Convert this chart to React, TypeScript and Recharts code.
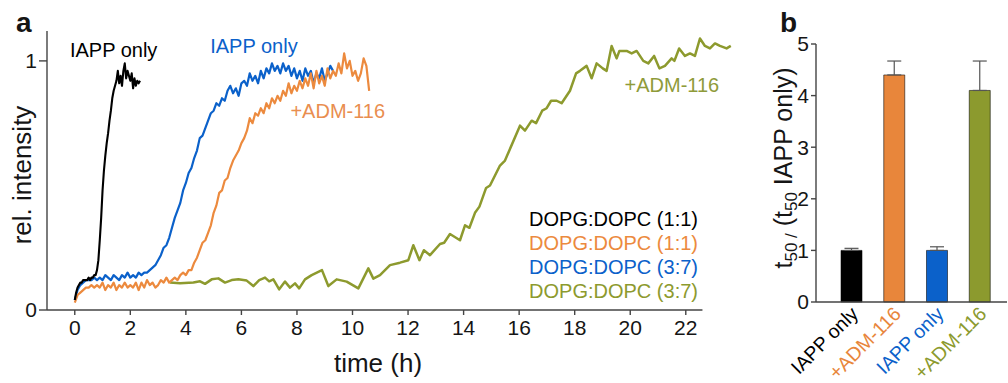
import React from 'react';
import {
  LineChart,
  Line,
  XAxis,
  YAxis,
  ReferenceLine,
  ReferenceDot,
  Legend,
  BarChart,
  Bar,
  Cell,
  ErrorBar,
} from 'recharts';

const FONT = '"Liberation Sans", Arial, Helvetica, sans-serif';
const INK = '#151515';
const AXIS = '#444444';

const BLACK = '#000000';
const ORANGE = '#EC8A3E';
const BLUE = '#0B61CA';
const OLIVE = '#8D9A2E';

// ---- panel a: ThT kinetics (relative intensity vs time in hours) ----
const timeTicks = [0, 2, 4, 6, 8, 10, 12, 14, 16, 18, 20, 22];
const intensityTicks = [0, 1];

// IAPP only, DOPG:DOPC (1:1): sampled every 0.05 h
const BLACK_DT = 0.05;
const blackValues = [
  0.04, 0.07, 0.09, 0.10, 0.11, 0.11, 0.12, 0.12, 0.12, 0.12,
  0.13, 0.12, 0.13, 0.13, 0.14, 0.14, 0.16, 0.20, 0.28, 0.37,
  0.48, 0.56, 0.62, 0.67, 0.71, 0.76, 0.80, 0.85, 0.88, 0.90,
  0.92, 0.96, 0.91, 0.94, 0.90, 0.96, 0.99, 0.93, 0.96, 0.94,
  0.92, 0.95, 0.89, 0.93, 0.90, 0.92, 0.91, 0.92,
];

// IAPP only, DOPG:DOPC (3:7): sampled every 0.1 h
const BLUE_DT = 0.1;
const blueValues = [
  0.04, 0.08, 0.10, 0.11, 0.12, 0.12, 0.12, 0.13, 0.12, 0.13,
  0.12, 0.14, 0.13, 0.12, 0.14, 0.13, 0.12, 0.14, 0.13, 0.15,
  0.13, 0.14, 0.13, 0.15, 0.14, 0.15, 0.15, 0.16, 0.17, 0.18,
  0.20, 0.22, 0.25, 0.26, 0.29, 0.33, 0.37, 0.40, 0.43, 0.48,
  0.51, 0.55, 0.57, 0.61, 0.64, 0.69, 0.70, 0.73, 0.76, 0.79,
  0.80, 0.83, 0.82, 0.85, 0.84, 0.88, 0.90, 0.87, 0.89, 0.86,
  0.91, 0.92, 0.90, 0.95, 0.92, 0.94, 0.91, 0.96, 0.93, 0.97,
  0.95, 0.99, 0.96, 0.98, 0.95, 0.99, 0.96, 0.98, 0.94, 0.97,
  0.93, 0.96, 0.92, 0.97, 0.94, 0.96, 0.91, 0.95, 0.93, 0.97,
  0.92, 0.95, 0.98, 0.96,
];

// +ADM-116, DOPG:DOPC (1:1): sampled every 0.1 h
const ORANGE_DT = 0.1;
const orangeValues = [
  0.03, 0.06, 0.07, 0.08, 0.09, 0.09, 0.10, 0.09, 0.10, 0.09,
  0.11, 0.08, 0.10, 0.09, 0.11, 0.08, 0.10, 0.09, 0.11, 0.09,
  0.10, 0.09, 0.11, 0.08, 0.11, 0.09, 0.12, 0.10, 0.11, 0.09,
  0.10, 0.12, 0.11, 0.13, 0.11, 0.12, 0.13, 0.12, 0.14, 0.15,
  0.14, 0.16, 0.16, 0.19, 0.21, 0.24, 0.27, 0.28, 0.31, 0.34,
  0.39, 0.42, 0.47, 0.48, 0.52, 0.53, 0.57, 0.60, 0.62, 0.64,
  0.67, 0.69, 0.72, 0.77, 0.75, 0.79, 0.78, 0.81, 0.79, 0.83,
  0.81, 0.85, 0.83, 0.86, 0.84, 0.88, 0.86, 0.91, 0.87, 0.90,
  0.88, 0.92, 0.89, 0.93, 0.90, 0.95, 0.89, 0.96, 0.91, 0.94,
  0.90, 0.97, 0.93, 0.96, 0.94, 0.99, 0.95, 1.03, 0.97, 1.00,
  0.94, 0.96, 0.92, 0.95, 1.01, 0.98, 0.88,
];

// +ADM-116, DOPG:DOPC (3:7): irregular sampling
const oliveTimes = [
  3.43, 3.79, 4.27, 4.51, 4.69, 4.93, 5.17, 5.41, 5.65, 5.89,
  6.19, 6.43, 6.64, 6.85, 7.0, 7.15, 7.36, 7.57, 7.75, 7.93,
  8.08, 8.29, 8.53, 8.9, 9.13, 9.43, 9.79, 10.21, 10.57, 10.75,
  10.99, 11.35, 11.71, 12.01, 12.19, 12.41, 12.57, 12.79, 13.15, 13.3,
  13.51, 13.87, 14.05, 14.21, 14.41, 14.57, 14.81, 14.95, 15.31, 15.49,
  16.03, 16.21, 16.45, 16.61, 16.83, 16.99, 17.15, 17.35, 17.53, 17.83,
  18.05, 18.19, 18.43, 18.61, 18.79, 19.01, 19.15, 19.33, 19.51, 19.61,
  19.87, 20.05, 20.23, 20.47, 20.65, 20.86, 21.05, 21.25, 21.49, 21.59,
  21.76, 21.97, 22.15, 22.33, 22.51, 22.69, 22.87, 23.05, 23.23, 23.47,
  23.62,
];
const oliveValues = [
  0.11, 0.107, 0.11, 0.115, 0.105, 0.123, 0.127, 0.11, 0.12, 0.123,
  0.118, 0.096, 0.12, 0.13, 0.115, 0.123, 0.083, 0.114, 0.09, 0.107,
  0.087, 0.123, 0.14, 0.16, 0.096, 0.123, 0.114, 0.087, 0.167, 0.126,
  0.14, 0.18, 0.19, 0.20, 0.26, 0.20, 0.24, 0.22, 0.265, 0.27,
  0.305, 0.28, 0.34, 0.33, 0.39, 0.415, 0.49, 0.50, 0.58, 0.60,
  0.74, 0.72, 0.76, 0.75, 0.80, 0.81, 0.84, 0.84, 0.83, 0.88,
  0.95, 0.96, 0.98, 0.93, 0.99, 0.97, 0.96, 1.06, 1.01, 1.04,
  1.04, 1.03, 1.04, 1.0, 0.99, 1.02, 0.97, 0.98, 1.01, 1.0,
  1.05, 1.02, 1.03, 1.02, 1.09, 1.06, 1.05, 1.07, 1.06, 1.05,
  1.06,
];

const legendLabels = ['DOPG:DOPC (1:1)', 'DOPG:DOPC (1:1)', 'DOPG:DOPC (3:7)', 'DOPG:DOPC (3:7)'];
const legendColors = [BLACK, ORANGE, BLUE, OLIVE];

// ---- panel b: t50 relative to IAPP alone ----
const barLabels = ['IAPP only', '+ADM-116', 'IAPP only', '+ADM-116'];
const barValues = [1.0, 4.4, 1.0, 4.1];
const barErrors = [0.04, 0.27, 0.07, 0.57];
const barColors = ['#000000', '#E8863B', '#0B61CA', '#8C9A2E'];
const ratioTicks = [0, 1, 2, 3, 4, 5];

const sampled = (values: number[], dt: number) =>
  values.map((v, i) => ({ t: Math.round(i * dt * 100) / 100, v }));

const blackData = sampled(blackValues, BLACK_DT);
const blueData = sampled(blueValues, BLUE_DT);
const orangeData = sampled(orangeValues, ORANGE_DT);
const oliveData = oliveTimes.map((t, i) => ({ t, v: oliveValues[i] }));

const barData = barLabels.map((label, i) => ({
  id: i,
  label,
  value: barValues[i],
  err: [0, barErrors[i]],
}));

const IntensityTitle = (props: any) => {
  const vb = props.viewBox || { x: 0, y: 31, width: 47, height: 279 };
  const x = vb.x + 31;
  const y = vb.y + 144;
  return (
    <g>
      <text x={16} y={32} fontSize={28} fontWeight="bold" fontFamily={FONT} fill={INK}>
        a
      </text>
      <text
        x={x}
        y={y}
        transform={`rotate(-90, ${x}, ${y})`}
        textAnchor="middle"
        fontSize={26}
        fontFamily={FONT}
        fill={INK}
      >
        rel. intensity
      </text>
    </g>
  );
};

const TimeTitle = (props: any) => {
  const vb = props.viewBox || { x: 47, y: 310, width: 686, height: 73 };
  return (
    <text x={vb.x + 331} y={vb.y + 62} textAnchor="middle" fontSize={26} fontFamily={FONT} fill={INK}>
      time (h)
    </text>
  );
};

const RatioTitle = (props: any) => {
  const vb = props.viewBox || { x: 0, y: 44, width: 56, height: 258 };
  const x = vb.x + 32;
  const y = vb.y + vb.height / 2 - 5;
  return (
    <g>
      <text x={20} y={32} fontSize={28} fontWeight="bold" fontFamily={FONT} fill={INK}>
        b
      </text>
      <text
        x={x}
        y={y}
        transform={`rotate(-90, ${x}, ${y})`}
        textAnchor="middle"
        fontSize={25}
        fontFamily={FONT}
        fill={INK}
      >
        t
        <tspan fontSize={17} dy={5}>
          50 /
        </tspan>
        <tspan dy={-5}> (t</tspan>
        <tspan fontSize={17} dy={5}>
          50
        </tspan>
        <tspan dy={-5}> IAPP only)</tspan>
      </text>
    </g>
  );
};

const ConditionTick = (props: any) => {
  const { x, y, payload } = props;
  const i = Number(payload.value);
  const ax = x + 8;
  const ay = y + 5;
  return (
    <text
      x={ax}
      y={ay}
      transform={`rotate(-45, ${ax}, ${ay})`}
      textAnchor="end"
      fontSize={19.5}
      fontFamily={FONT}
      fill={barColors[i]}
    >
      {barLabels[i]}
    </text>
  );
};

const ConditionLegend = () => (
  <div style={{ textAlign: 'right', fontFamily: FONT, fontSize: 20, lineHeight: '24px' }}>
    {legendLabels.map((label, i) => (
      <div key={i} style={{ color: legendColors[i], whiteSpace: 'nowrap' }}>
        {label}
      </div>
    ))}
  </div>
);

const noteStyle = (color: string) => ({
  position: 'center' as const,
  fill: color,
  fontSize: 20,
  fontFamily: FONT,
});

export default function App() {
  return (
    <div
      style={{
        position: 'absolute',
        left: 0,
        top: 0,
        width: 1008,
        height: 383,
        background: '#ffffff',
        fontFamily: FONT,
        overflow: 'hidden',
      }}
    >
      <div style={{ position: 'absolute', left: 0, top: 0 }}>
        <LineChart width={750} height={383} margin={{ top: 31, right: 17, bottom: 0, left: 0 }}>
          <XAxis
            type="number"
            dataKey="t"
            domain={[-1, 23.7]}
            ticks={timeTicks}
            interval={0}
            height={73}
            axisLine={false}
            stroke={AXIS}
            tickLine={{ stroke: AXIS, strokeWidth: 1.4 }}
            tickSize={5}
            tickMargin={5}
            tick={{ fontSize: 21, fill: INK, fontFamily: FONT }}
            label={<TimeTitle />}
          />
          <YAxis
            type="number"
            domain={[0, 1.12]}
            ticks={intensityTicks}
            width={47}
            stroke={AXIS}
            axisLine={{ stroke: AXIS, strokeWidth: 1.4 }}
            tickLine={{ stroke: AXIS, strokeWidth: 1.4 }}
            tickSize={8}
            tickMargin={2}
            tick={{ fontSize: 21, fill: INK, fontFamily: FONT }}
            label={<IntensityTitle />}
          />
          <ReferenceLine
            segment={[
              { x: -1, y: 0 },
              { x: 22.6, y: 0 },
            ]}
            stroke={AXIS}
            strokeWidth={1.4}
            ifOverflow="visible"
          />
          <Line
            data={oliveData}
            dataKey="v"
            type="linear"
            stroke={OLIVE}
            strokeWidth={2.5}
            strokeLinejoin="round"
            dot={false}
            isAnimationActive={false}
            name="DOPG:DOPC (3:7) +ADM-116"
          />
          <Line
            data={blueData}
            dataKey="v"
            type="linear"
            stroke={BLUE}
            strokeWidth={2.2}
            strokeLinejoin="round"
            dot={false}
            isAnimationActive={false}
            name="DOPG:DOPC (3:7) IAPP only"
          />
          <Line
            data={orangeData}
            dataKey="v"
            type="linear"
            stroke={ORANGE}
            strokeWidth={2.2}
            strokeLinejoin="round"
            dot={false}
            isAnimationActive={false}
            name="DOPG:DOPC (1:1) +ADM-116"
          />
          <Line
            data={blackData}
            dataKey="v"
            type="linear"
            stroke={BLACK}
            strokeWidth={2.1}
            strokeLinejoin="round"
            dot={false}
            isAnimationActive={false}
            name="DOPG:DOPC (1:1) IAPP only"
          />
          <ReferenceDot x={1.4} y={1.044} r={0} fill="none" stroke="none" label={{ value: 'IAPP only', ...noteStyle(BLACK) }} />
          <ReferenceDot x={6.45} y={1.06} r={0} fill="none" stroke="none" label={{ value: 'IAPP only', ...noteStyle(BLUE) }} />
          <ReferenceDot x={9.47} y={0.8} r={0} fill="none" stroke="none" label={{ value: '+ADM-116', ...noteStyle('#E98E4F') }} />
          <ReferenceDot x={21.5} y={0.904} r={0} fill="none" stroke="none" label={{ value: '+ADM-116', ...noteStyle('#8F9B3A') }} />
          <Legend
            layout="vertical"
            align="center"
            verticalAlign="middle"
            content={<ConditionLegend />}
            wrapperStyle={{ left: 470, top: 207, width: 228 }}
          />
        </LineChart>
      </div>

      <div style={{ position: 'absolute', left: 760, top: 0 }}>
        <BarChart width={248} height={383} data={barData} margin={{ top: 44, right: 1, bottom: 0, left: 0 }}>
          <XAxis
            dataKey="id"
            type="category"
            height={81}
            padding={{ left: 14, right: 6 }}
            interval={0}
            axisLine={{ stroke: AXIS, strokeWidth: 1.4 }}
            tickLine={false}
            tickSize={6}
            tickMargin={2}
            tick={<ConditionTick />}
          />
          <YAxis
            type="number"
            domain={[0, 5]}
            ticks={ratioTicks}
            width={56}
            axisLine={{ stroke: AXIS, strokeWidth: 1.4 }}
            tickLine={{ stroke: AXIS, strokeWidth: 1.4 }}
            tickSize={5}
            tickMargin={2}
            tick={{ fontSize: 21, fill: INK, fontFamily: FONT }}
            label={<RatioTitle />}
          />
          <Bar dataKey="value" barSize={21} stroke="rgba(0,0,0,0.55)" strokeWidth={1} isAnimationActive={false}>
            {barData.map((d) => (
              <Cell key={d.id} fill={barColors[d.id]} />
            ))}
            <ErrorBar dataKey="err" direction="y" width={7} stroke="#555555" strokeWidth={1.2} />
          </Bar>
        </BarChart>
      </div>
    </div>
  );
}
